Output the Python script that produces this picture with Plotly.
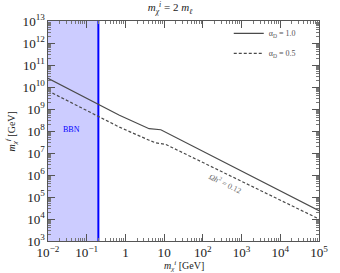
import plotly.graph_objects as go

# ---- data ----
x_solid = [0.01, 0.2, 0.7, 4.1, 8.2, 1e5]
y_solid = [2.5e10, 1.6e9, 5.2e8, 1.27e8, 1.14e8, 2.4e4]
x_dash = [0.01, 0.2, 0.7, 4.1, 6.0, 11.0, 1e5]
y_dash = [6.7e9, 4.4e8, 1.5e8, 3.8e7, 2.9e7, 2.45e7, 1.0e4]
labels = ["α<sub>D</sub> = 1.0", "α<sub>D</sub> = 0.5"]
bbn_bound = 0.2
x_range = [0.01, 1e5]
y_range = [1e3, 1e13]

SERIF = "Liberation Serif"
fig = go.Figure()

# BBN excluded region (filled) and its boundary line
fig.add_trace(go.Scatter(x=[x_range[0], bbn_bound, bbn_bound, x_range[0], x_range[0]],
                         y=[y_range[0], y_range[0], y_range[1], y_range[1], y_range[0]],
                         mode="none", fill="toself", fillcolor="rgba(0,0,255,0.2)",
                         showlegend=False, hoverinfo="skip"))
fig.add_trace(go.Scatter(x=[bbn_bound, bbn_bound], y=y_range, mode="lines",
                         line=dict(color="#0000ff", width=2),
                         showlegend=False, hoverinfo="skip"))

fig.add_trace(go.Scatter(x=x_solid, y=y_solid, mode="lines", name=labels[0],
                         legendgroup="a", line=dict(color="#4a4a4a", width=1.2)))
fig.add_trace(go.Scatter(x=x_dash, y=y_dash, mode="lines", name=labels[1],
                         legendgroup="b", line=dict(color="#4a4a4a", width=1.2, dash="3px,2px")))

fig.add_annotation(x=-1.385, y=8.09, xref="x", yref="y", text="BBN", showarrow=False,
                   font=dict(family=SERIF, size=8, color="#0000ff"))
fig.add_annotation(x=2.58, y=5.65, xref="x", yref="y", text="<i>Ωh</i><sup>2</sup> = 0.12",
                   showarrow=False, textangle=26,
                   font=dict(family=SERIF, size=8, color="#666666"))

# axis titles
fig.add_annotation(x=0.5, y=-0.112, xref="paper", yref="paper",
                   text="<i>m<sub>χ</sub><sup>i</sup></i> [GeV]", showarrow=False,
                   xanchor="center", yanchor="middle",
                   font=dict(family=SERIF, size=10, color="#222222"))
fig.add_annotation(x=-0.135, y=0.5, xref="paper", yref="paper",
                   text="<i>m<sub>χ</sub><sup>f</sup></i> [GeV]", showarrow=False,
                   textangle=-90, xanchor="center", yanchor="middle",
                   font=dict(family=SERIF, size=10, color="#222222"))

axis_common = dict(type="log", showgrid=False, zeroline=False, showline=True,
                   linecolor="#555555", linewidth=1, mirror="allticks",
                   ticks="inside", ticklen=7, tickcolor="#555555", dtick=1,
                   exponentformat="power", ticklabeloverflow="allow",
                   tickfont=dict(family=SERIF, size=10.5, color="#222222"),
                   minor=dict(ticks="inside", ticklen=3, tickcolor="#777777", showgrid=False))

fig.update_xaxes(**axis_common, range=[-2, 5])
fig.update_yaxes(**axis_common, range=[3, 13])

fig.update_layout(
    width=340, height=273,
    margin=dict(l=48, r=19, t=17, b=32),
    paper_bgcolor="white", plot_bgcolor="white",
    title=dict(text="<i>m<sub>χ</sub><sup>i</sup></i> = 2 <i>m<sub>ℓ</sub></i>", x=0.5, xanchor="center",
               y=0.972, yanchor="middle", font=dict(family=SERIF, size=11, color="#222222")),
    legend=dict(x=0.667, y=1.01, xanchor="left", yanchor="top", bgcolor="rgba(0,0,0,0)",
                font=dict(family=SERIF, size=8, color="#555555"), tracegroupgap=1),
    showlegend=True,
)

fig.write_html("out.html", config={"displayModeBar": False},
               post_script="document.body.style.margin='0';document.body.style.overflow='hidden';")
